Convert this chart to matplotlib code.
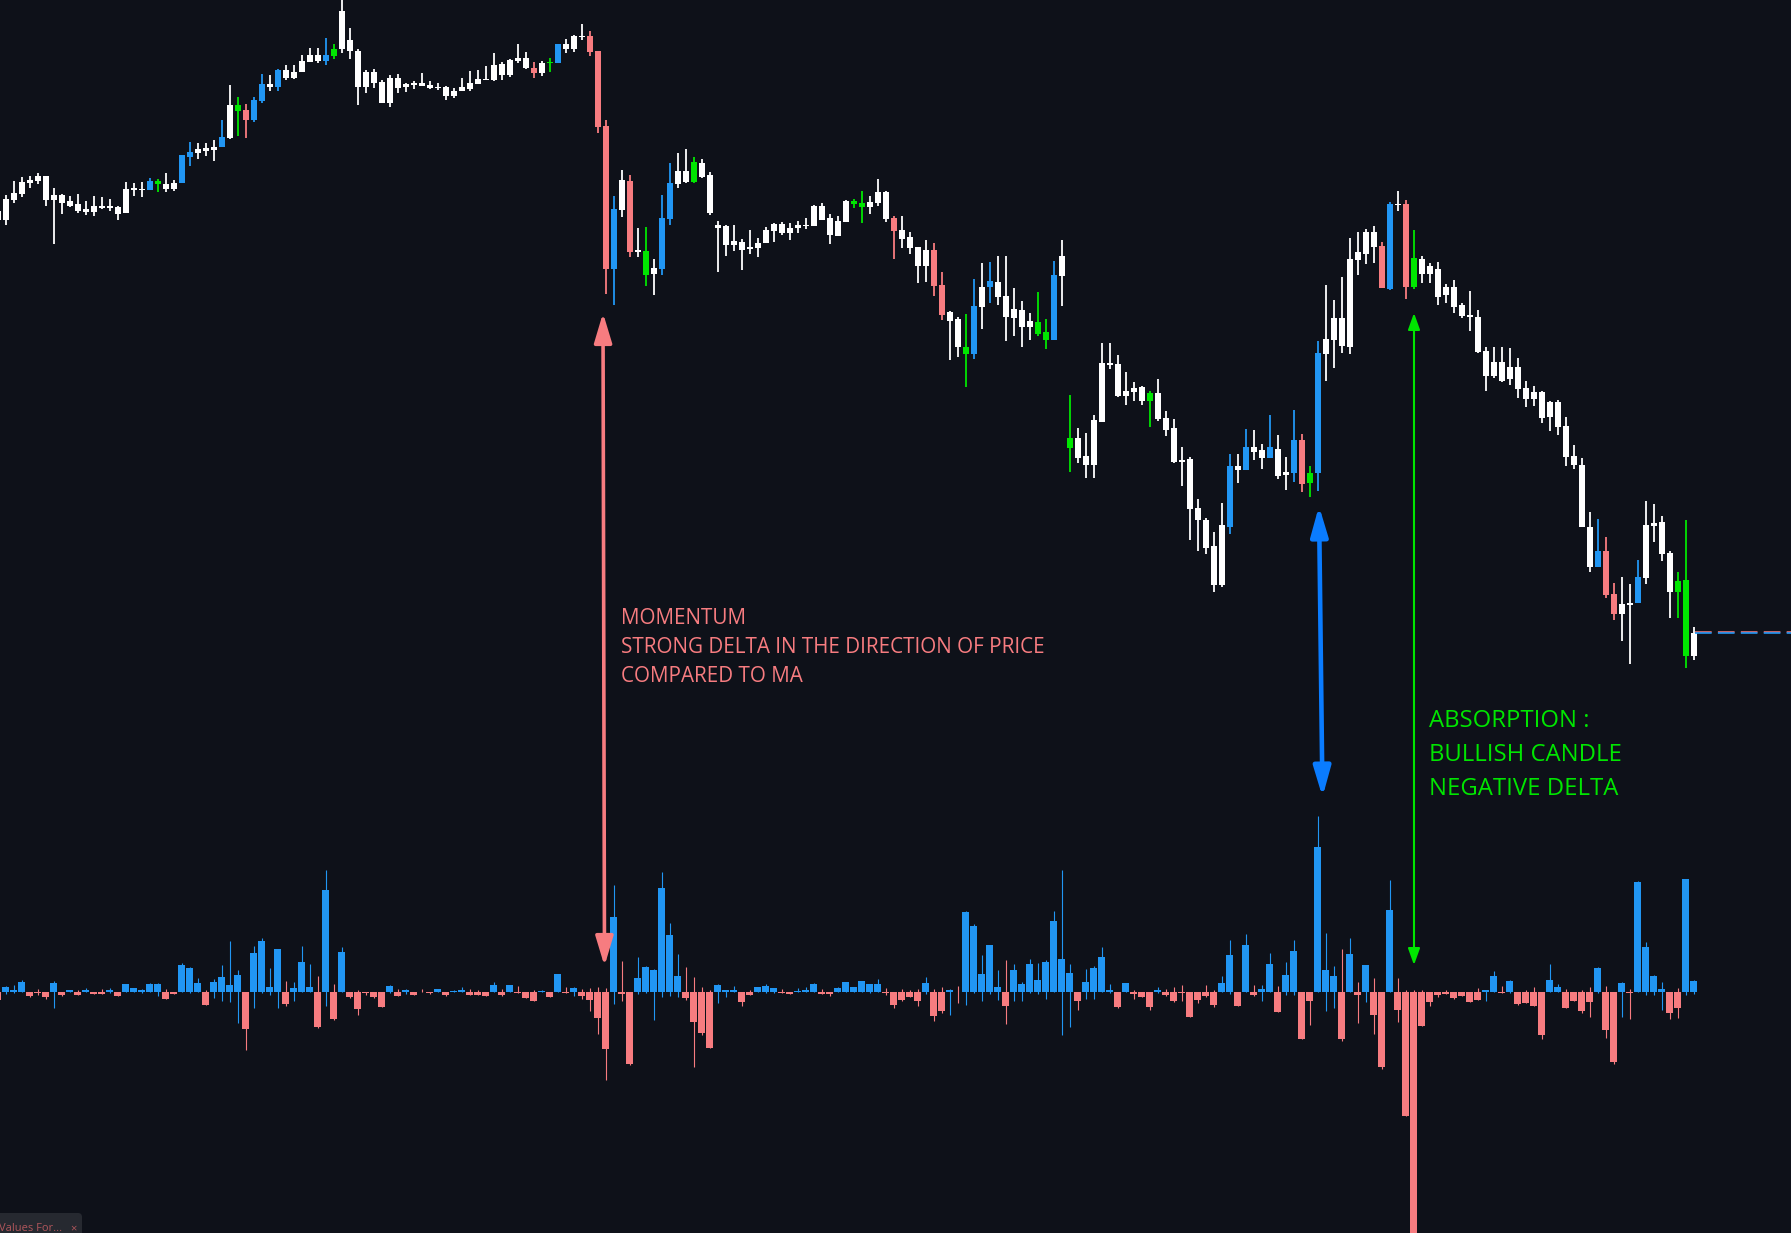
import numpy as np
import matplotlib.pyplot as plt
from matplotlib.patches import FancyArrowPatch, FancyBboxPatch

plt.rcParams['lines.scale_dashes'] = False

W, H = 1791, 1233
bg = '#0e1119'
white = '#ffffff'
blue = '#2196f3'
red = '#f77c80'
green = '#00e600'

# candle type: w normal, b momentum, r red, g absorption
kind = ("wwwwwwwwww" "wwwwwwwwwb" "gwwbbwwwbw" "grbbwbwwww" "wbgwwwwwww"
        "wwwwwwwwww" "wwwwwwwrwg" "bwwwrrrbwr" "wgwbbwwgww" "wwwwwwwwww"
        "wwwwwwwggw" "wwrwwwwrrw" "wgbwbwwwww" "ggbwgwwwww" "wwwwgwwwww"
        "wwwwbwbwwb" "wwbrgbwwww" "wwwrbwrgww" "wwwwwwwwww" "wwwwwwwwww"
        "brrwwbwwww" "ggw")

opens = [480, 480, 500, 506, 517, 519, 524, 500, 505, 499,
         496, 491, 488, 494, 492, 493, 487, 510, 511, 510,
         516, 516, 511, 517, 543, 547, 552, 550, 553, 562,
         589, 590, 580, 599, 616, 613, 630, 622, 628, 638,
         645, 639, 644, 651, 660, 649, 613, 628, 618, 597,
         622, 613, 615, 617, 615, 613, 613, 604, 609, 611,
         616, 620, 620, 625, 625, 639, 642, 632, 627, 637,
         637, 656, 651, 664, 664, 649, 574, 431, 490, 519,
         448, 425, 426, 431, 481, 516, 529, 518, 537, 525,
         472, 474, 455, 458, 451, 452, 457, 469, 476, 467,
         472, 474, 474, 494, 482, 464, 478, 496, 493, 493,
         497, 508, 482, 470, 463, 453, 434, 450, 415, 388,
         381, 346, 346, 393, 413, 418, 404, 382, 390, 373,
         366, 360, 360, 424, 252, 262, 244, 235, 278, 337,
         336, 304, 308, 313, 299, 307, 282, 272, 238, 241,
         192, 180, 154, 115, 173, 234, 230, 253, 250, 242,
         251, 225, 227, 260, 217, 227, 346, 360, 382, 353,
         440, 446, 468, 454, 411, 496, 496, 413, 441, 426,
         431, 405, 413, 395, 385, 383, 349, 324, 338, 321,
         333, 312, 301, 308, 283, 298, 274, 244, 235, 173,
         133, 149, 106, 86, 95, 97, 122, 174, 178, 147,
         108, 120, 44]

highs = [492, 505, 519, 523, 524, 527, 524, 512, 506, 504,
         506, 499, 504, 503, 501, 494, 518, 517, 518, 522,
         521, 527, 520, 545, 558, 557, 557, 560, 580, 615,
         603, 596, 603, 626, 625, 631, 635, 635, 645, 652,
         652, 662, 656, 700, 672, 651, 630, 631, 620, 625,
         626, 617, 619, 627, 619, 617, 614, 612, 622, 629,
         630, 634, 647, 638, 641, 656, 648, 638, 639, 642,
         656, 661, 665, 676, 669, 649, 580, 504, 530, 525,
         472, 473, 441, 505, 537, 547, 551, 543, 541, 528,
         479, 475, 475, 461, 470, 462, 473, 477, 478, 477,
         479, 482, 495, 497, 486, 484, 500, 501, 509, 504,
         521, 509, 484, 484, 468, 453, 460, 457, 428, 389,
         383, 386, 421, 437, 438, 444, 444, 412, 399, 387,
         408, 381, 439, 460, 305, 272, 267, 285, 357, 357,
         345, 328, 318, 314, 309, 321, 289, 281, 253, 243,
         201, 182, 168, 197, 246, 246, 271, 270, 256, 285,
         265, 243, 290, 266, 234, 359, 415, 400, 423, 462,
         468, 471, 474, 458, 498, 509, 500, 470, 444, 437,
         438, 416, 420, 397, 409, 390, 353, 353, 353, 352,
         342, 319, 314, 309, 299, 300, 283, 255, 242, 188,
         181, 163, 117, 123, 116, 140, 199, 196, 184, 149,
         128, 180, 73]

lows = [476, 475, 497, 503, 512, 516, 494, 456, 486, 493,
        487, 485, 484, 491, 489, 480, 487, 504, 503, 510,
        508, 508, 509, 517, 534, 541, 544, 539, 553, 561,
        564, 562, 578, 597, 609, 609, 620, 621, 628, 638,
        637, 635, 641, 647, 641, 595, 607, 612, 597, 593,
        607, 608, 611, 614, 611, 610, 600, 602, 609, 609,
        616, 620, 619, 620, 623, 637, 631, 622, 624, 628,
        637, 647, 648, 660, 644, 567, 406, 395, 483, 443,
        443, 414, 405, 425, 475, 512, 517, 517, 522, 485,
        428, 444, 449, 430, 446, 443, 457, 458, 465, 460,
        467, 471, 474, 480, 456, 464, 478, 492, 477, 486,
        494, 478, 441, 452, 446, 417, 418, 404, 380, 340,
        343, 313, 341, 371, 397, 395, 359, 364, 353, 360,
        364, 351, 360, 394, 228, 237, 222, 222, 278, 331,
        303, 295, 299, 295, 273, 279, 264, 237, 214, 160,
        149, 146, 108, 113, 166, 217, 230, 240, 231, 242,
        221, 210, 218, 208, 203, 209, 319, 332, 347, 346,
        425, 436, 437, 412, 410, 489, 401, 411, 417, 417,
        395, 397, 387, 382, 369, 347, 309, 322, 318, 315,
        302, 293, 294, 277, 269, 265, 234, 231, 173, 128,
        133, 102, 80, 59, 36, 97, 116, 158, 139, 82,
        82, 32, 40]

closes = [489, 501, 507, 518, 520, 524, 500, 505, 497, 494,
          489, 488, 494, 492, 494, 486, 511, 512, 510, 519,
          519, 511, 517, 545, 548, 551, 549, 553, 563, 595,
          595, 580, 600, 616, 613, 630, 622, 628, 639, 645,
          639, 645, 651, 689, 649, 613, 628, 617, 597, 622,
          612, 616, 617, 614, 612, 612, 604, 609, 613, 617,
          621, 621, 635, 636, 640, 642, 632, 627, 637, 638,
          656, 651, 664, 663, 648, 573, 431, 491, 520, 448,
          450, 449, 432, 482, 517, 529, 518, 538, 523, 487,
          475, 455, 459, 450, 453, 457, 470, 476, 467, 472,
          475, 475, 494, 480, 465, 479, 499, 499, 497, 498,
          508, 481, 469, 461, 452, 434, 450, 414, 385, 379,
          353, 353, 394, 413, 419, 403, 383, 391, 373, 379,
          378, 368, 425, 444, 262, 242, 235, 280, 337, 335,
          304, 309, 312, 299, 307, 281, 270, 238, 240, 191,
          180, 152, 115, 175, 234, 230, 253, 248, 242, 253,
          224, 228, 260, 216, 227, 347, 361, 382, 354, 441,
          448, 468, 453, 412, 496, 495, 413, 442, 426, 434,
          403, 413, 393, 384, 383, 348, 324, 338, 319, 333,
          311, 301, 308, 282, 298, 273, 243, 235, 173, 133,
          149, 105, 86, 96, 97, 123, 175, 177, 146, 108,
          119, 44, 67]

# delta per bar, with its high / low extremes
delta = [-8, 4.7, 1.7, 9.7, -4.3, -1.3, -5.3, 8.7, -3.3, 1.7,
         -3.3, 1.7, -2.3, -2.3, 1.7, -4.3, 7.7, 3.7, 1.7, 7.7,
         7.7, -7.3, -2.3, 26.7, 23.7, 8.7, -13.3, 9.7, 14.7, 6.7,
         16.7, -37.3, 38.7, 50.7, 4.7, 42.7, -12.3, 3.7, 29.7, 4.7,
         -35.3, 101.7, -27.3, 39.7, -5.3, -17.3, -1.3, -5.3, -15.3, 5.7,
         -4.3, 1.7, -3.3, -0.7, -1.3, 2.7, -3.3, 0.7, 1.7, -3.3,
         -3.3, -4.3, 6.7, -3.3, 6.7, -1.3, -6.3, -9.3, 0.7, -5.3,
         17.7, -1, 3.7, -4.3, -8.3, -26.3, -57.3, 74.7, -2.3, -72.3,
         13.7, 24.7, 21.7, 103.7, 56.7, 15.7, -6.3, -30.3, -41.3, -56.3,
         6.7, 1.7, 1.7, -10.3, -3.3, 4.7, 5.7, 3.7, -1.3, -2.3,
         0.7, 1.7, 7.7, -2.3, -2.3, 3.7, 9.7, 4.7, 10.7, 7.7,
         7.7, -1.3, -13.3, -8.3, -5.3, -9.3, 8.7, -24.3, -19.3, 1.7,
         -0.3, 79.7, 65.7, 17.7, 46.7, 4.7, -14.3, 21.7, 7.7, 27.7,
         11.7, 29.7, 70.7, 32.7, 18.7, -9.3, 9.7, 23.7, 34.7, 1.7,
         -15.3, 8.7, -2.3, -5.3, -15.3, 1.7, -3.3, -9.3, -1.3, -25.3,
         -8.3, -4.3, -13.3, 8.3, 36.3, -14.7, 46.3, -3.7, 2.3, 27.3,
         -20.7, 16.3, 40.3, -47.7, -9.7, 144.3, 21.3, 15.3, -47.7, 37.3,
         -3.7, 26.3, -23.7, -75.7, 81.3, -18.7, -124.7, -250, -34.7, -10.7,
         -3.7, -2.7, -6.7, -4.7, -10.7, -8.7, 1.3, 15.3, -1.7, 10.3,
         -12.7, -11.7, -14.7, -43.7, 11.3, 4.3, -16.7, -9.7, -19.7, -10.7,
         23.3, -38.7, -70.7, 8.3, -1.7, 109.3, 44.3, 15.3, 2.3, -21.7,
         -16.7, 112.3, 10.3]

delta_hi = [0, 6, 6.7, 11.7, 0, 2.7, 0, 10.7, 0, 1.7,
            1.7, 3.7, 0, 2.7, 3.7, 0, 7.7, 3.7, 2.7, 8.7,
            8.7, 2.7, 0, 28.7, 24.7, 13.7, 1.7, 12.7, 26.7, 50.7,
            21.7, 0, 45.7, 53.7, 23.7, 42.7, 10.7, 9.7, 45.7, 27.7,
            15.7, 121.7, 7.7, 44.7, 0, 1.7, 0, 0, 0, 6.7,
            2.7, 2.7, 0, 2.7, 0, 2.7, 0, 1.7, 4.7, 2.7,
            1.7, 0, 9.7, 2.7, 6.7, 5.7, 0, 1.7, 1.7, 0,
            17.7, 4.7, 4.7, 2.7, 3.7, 4.7, 3.7, 106.7, 30.7, 0,
            34.7, 25.7, 22.7, 119.7, 68.7, 37.7, 24.7, 14.7, 4.7, 1.7,
            7.7, 1.7, 5.7, 0, 1.7, 4.7, 7.7, 3.7, 2.7, 0,
            3.7, 4.7, 8.7, 2.7, 0, 4.7, 9.7, 4.7, 10.7, 7.7,
            12.7, 3.7, 0, 2.7, 1.7, 2.7, 14.7, 2.7, 4.7, 2.7,
            5.7, 80.7, 67.7, 36.7, 46.7, 21.7, 31.7, 27.7, 9.7, 32.7,
            28.7, 31.7, 80.7, 121.7, 27.7, 0, 22.7, 25.7, 44.7, 7.7,
            0, 8.7, 1.7, 0, 0, 4.7, 2.7, 4.7, 6.7, 0,
            0, 6.7, 1.7, 15.3, 51.3, 0, 57.3, 6.3, 6.3, 38.3,
            5.3, 29.3, 51.3, 0, 0, 175.3, 58.3, 25.3, 42.3, 53.3,
            9.3, 26.3, 13.3, 0, 111.3, 13.3, 1.7, 1.3, 1.3, 0,
            0, 1.3, 0, 0, 0, 3.3, 1.3, 20.3, 5.3, 11.3,
            0, 1.3, 4.3, 0, 27.3, 7.3, 2.3, 0, 1.3, 4.3,
            24.3, 5.3, 0, 9.3, 2.3, 110.3, 49.3, 16.3, 9.3, 0,
            3.3, 112.3, 11.3]

delta_lo = [-8, -2.3, -1, 0, -5, -3.3, -7.3, -16.3, -4.3, 0,
            -3.3, 0, -2.3, -2.3, -1, -4.3, 0, 0, -1.3, 0,
            -4.3, -7.3, -2.3, 0, -1, 0, -13.3, -6.3, -9.3, -10.3,
            -31.3, -58.3, -16.3, -1.3, -3.3, -16.3, -14.3, -9.3, 0, 0,
            -36.3, -14.3, -28.3, 0, -6.3, -23.3, -3.3, -6.3, -15.3, -1.3,
            -4.3, -2.3, -3.3, -0.7, -2.3, 0, -4.3, 0, 0, -3.3,
            -3.3, -4.3, 0, -4.3, 0, -1.3, -6.3, -9.3, 0, -5.3,
            0, -1, -4.3, -7.3, -19.3, -42.3, -88, -12.3, -9.3, -73.3,
            -2.3, -1.3, -28.3, -5.3, -4.3, -5.3, -8.3, -75.3, -43.3, -56.3,
            -11.3, -5.3, 0, -14.3, -3.3, 0, -1.3, -1.3, -1.3, -2.3,
            0, 0, 0, -2.3, -4.3, 0, 0, 0, 0, -1.3,
            0, -3.3, -16.3, -9.3, -5.3, -14.3, -2.3, -29.3, -21.3, -23.3,
            -11.3, -13.3, -1.3, -9.3, -2.3, -8.3, -32.3, -9.3, -9.3, -1.3,
            -2.3, -7.3, 0, -43.3, -35.3, -18.3, -7.3, -7.3, 0, -1.3,
            -16.3, 0, -7, -5.3, -18, -1.3, -4.3, -10.3, -9.3, -25.3,
            -11.3, -5.3, -15.3, 0, -2.7, -14.7, 0, -4.7, -9.7, 0,
            -20.7, -3, -3, -47.7, -33.7, 0, -19.7, -16.7, -49.7, 0,
            -31.7, -10.7, -42.7, -77.7, 0, -30.7, -124.7, -250, -34.7, -14.7,
            -5.7, -2.7, -7.7, -4.7, -10.7, -8.7, -9.7, 0, -1.7, -1,
            -13.7, -11.7, -14.7, -47.7, 0, 0, -16.7, -9.7, -21.7, -25.7,
            -1, -46.7, -72.7, -25, -27.7, 0, -3, -3, -18.7, -27.7,
            -26.7, -3, -2]

last_price = 68

o = np.array(opens, float)
h = np.array(highs, float)
l = np.array(lows, float)
c = np.array(closes, float)
d = np.array(delta, float)
dh = np.array(delta_hi, float)
dl = np.array(delta_lo, float)
x = np.arange(len(o))

fig = plt.figure(figsize=(W / 100, H / 100), dpi=100, facecolor=bg)
ax = fig.add_axes([0, 0, 1, 1])
ax.set_facecolor(bg)
ax2 = fig.add_axes([0, 0, 1, 1], sharex=ax)
ax2.patch.set_alpha(0)

# price candles
cmap = {'w': white, 'b': blue, 'r': red, 'g': green}
cc = [cmap[k] for k in kind]
ax.vlines(x, l, h, colors=cc, lw=1.3)
body = np.maximum(np.abs(c - o), 1.3)
ax.bar(x, body, bottom=np.minimum(o, c), width=0.71, color=cc, linewidth=0)

# last price line
ax.hlines(last_price + 0.5, x[-1] + 0.2, 230, colors=red, lw=1.1, linestyles=(0, (12, 4.5)))
ax.hlines(last_price - 0.5, x[-1] + 0.2, 230, colors=blue, lw=1.2, linestyles=(0, (12, 4.5)))

# delta histogram
dc = np.where(d > 0, blue, red)
ax2.vlines(x, dl, dh, colors=dc, lw=0.8)
ax2.bar(x, d, width=0.88, color=dc, linewidth=0)

ax.set_xlim(0.2875, 224.16)
ax.set_ylim(-533, 700)
ax2.set_ylim(-241.5, 991.5)
ax.axis('off')
ax2.axis('off')


def fpt(px, py):
    return (px / W, 1 - py / H)


def arrow(p1, p2, color, lw, hl, hw):
    a = FancyArrowPatch(fpt(*p1), fpt(*p2), transform=fig.transFigure,
                        arrowstyle='<|-|>,head_length=%g,head_width=%g' % (hl, hw),
                        mutation_scale=1, color=color, lw=lw,
                        shrinkA=0, shrinkB=0)
    fig.add_artist(a)


arrow((603, 313), (604.5, 966), red, 2.6, 18, 5.4)
arrow((1319, 506), (1322.5, 797), '#0a7cff', 3.3, 18, 5.2)
arrow((1414, 313), (1414, 965), green, 1.5, 10, 3.6)

tfont = 'Open Sans'
for i, s in enumerate(['MOMENTUM', 'STRONG DELTA IN THE DIRECTION OF PRICE',
                       'COMPARED TO MA']):
    fig.text(*fpt(621, 624 + 29 * i), s, color=red, fontsize=14.85,
             family=tfont, va='baseline')
for i, s in enumerate(['ABSORPTION :', 'BULLISH CANDLE', 'NEGATIVE DELTA']):
    fig.text(*fpt(1429, 727 + 34 * i), s, color=green, fontsize=17.2,
             family=tfont, va='baseline')

# legend stub bottom-left
box = FancyBboxPatch((-0.06, -0.05), 0.88, 0.25, boxstyle='round,pad=0,rounding_size=0.04',
                     transform=fig.dpi_scale_trans, facecolor='#262930', edgecolor='none')
fig.add_artist(box)
fig.text(*fpt(-1, 1231), 'Values For...', color='#b0565b', fontsize=8, family=tfont, va='baseline')
fig.text(*fpt(70, 1231), '\u00d7', color='#b0565b', fontsize=8, family=tfont, va='baseline')

fig.savefig('out.png', dpi=100, facecolor=bg)
